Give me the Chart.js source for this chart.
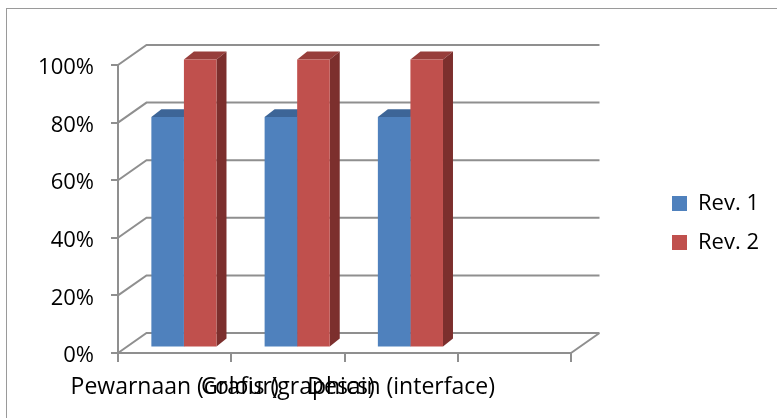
<!DOCTYPE html>
<html><head><meta charset="utf-8">
<script src="https://cdn.jsdelivr.net/npm/chart.js@4"></script>
<style>html,body{margin:0;padding:0;background:#fff}canvas{display:block}</style>
</head><body>
<canvas id="c" width="777" height="418"></canvas>
<script>
const categories = ['Pewarnaan (colour)', 'Grafis (graphics)', 'Desain (interface)', ''];
const seriesNames = ['Rev. 1', 'Rev. 2'];
const rev1 = [0.8, 0.8, 0.8, null];
const rev2 = [1.0, 1.0, 1.0, null];
const yTicks = [0, 0.2, 0.4, 0.6, 0.8, 1.0];

const FONT = 'Open Sans';
const FS = 22;
const WALL = {dx: 28.5, dy: -20};
const BAR_SHIFT = {dx: 9.3, dy: -5.6};
const BAR_DEPTH = {dx: 10, dy: -7.8};
const GRID = '#8f8f8f';
const frontColors = ['#4F81BD', '#C0504D'];
const faceColors = [{top: '#3D6597', side: '#2F5080'}, {top: '#973E3B', side: '#7C2F2D'}];
const LEGEND_BOX_X = 672, LEGEND_TOP = 192.5;

const plugin3d = {
  id: 'excel3d',
  beforeDraw(chart) {
    const ctx = chart.ctx;
    ctx.save();
    ctx.fillStyle = '#fff';
    ctx.fillRect(0, 0, chart.width, chart.height);
    ctx.strokeStyle = '#9a9a9a';
    ctx.lineWidth = 1;
    ctx.strokeRect(6.5, 8.5, chart.width + 20, chart.height + 20);
    ctx.restore();
  },
  afterLayout(chart) {
    const lg = chart.legend;
    if (!lg) return;
    const pad = lg.options.labels.padding;
    lg.left = LEGEND_BOX_X - pad;
    lg.right = lg.left + 140;
    lg.top = LEGEND_TOP - pad;
    lg.bottom = lg.top + 160;
    lg.width = 140; lg.height = 160;
  },
  beforeDatasetsDraw(chart) {
    const {ctx, chartArea: a, scales: {y}} = chart;
    ctx.save();
    ctx.strokeStyle = GRID;
    ctx.lineWidth = 2;
    ctx.beginPath();
    yTicks.forEach(v => {
      const py = y.getPixelForValue(v);
      ctx.moveTo(a.left, py);
      ctx.lineTo(a.left + WALL.dx, py + WALL.dy);
      ctx.lineTo(a.right + WALL.dx, py + WALL.dy);
    });
    const pb = y.getPixelForValue(0);
    ctx.moveTo(a.right, pb);
    ctx.lineTo(a.right + WALL.dx, pb + WALL.dy);
    ctx.stroke();
    ctx.restore();

    ctx.save();
    ctx.translate(BAR_SHIFT.dx, BAR_SHIFT.dy);
    const dx = BAR_DEPTH.dx, dy = BAR_DEPTH.dy;
    chart.data.datasets.forEach((ds, i) => {
      const meta = chart.getDatasetMeta(i);
      meta.data.forEach((el, j) => {
        if (ds.data[j] == null) return;
        const p = el.getProps(['x', 'y', 'base', 'width'], true);
        const L = p.x - p.width / 2, R = p.x + p.width / 2, T = p.y, B = p.base;
        ctx.fillStyle = faceColors[i].top;
        ctx.beginPath();
        ctx.moveTo(L, T); ctx.lineTo(L + dx, T + dy); ctx.lineTo(R + dx, T + dy); ctx.lineTo(R, T);
        ctx.closePath(); ctx.fill();
        ctx.fillStyle = faceColors[i].side;
        ctx.beginPath();
        ctx.moveTo(R, T); ctx.lineTo(R + dx, T + dy); ctx.lineTo(R + dx, B + dy); ctx.lineTo(R, B);
        ctx.closePath(); ctx.fill();
      });
    });
  },
  afterDatasetsDraw(chart) {
    chart.ctx.restore();
  }
};

Chart.defaults.font.family = FONT;
Chart.defaults.font.size = FS;
Chart.defaults.color = '#000';

new Chart(document.getElementById('c'), {
  type: 'bar',
  data: {
    labels: categories,
    datasets: [
      {label: seriesNames[0], data: rev1, backgroundColor: frontColors[0], borderWidth: 0, clip: false},
      {label: seriesNames[1], data: rev2, backgroundColor: frontColors[1], borderWidth: 0, clip: false}
    ]
  },
  options: {
    responsive: false,
    animation: false,
    events: [],
    layout: {padding: {top: 65, right: 206, left: 0, bottom: 0}},
    datasets: {bar: {categoryPercentage: 0.575, barPercentage: 1}},
    plugins: {
      tooltip: {enabled: false},
      legend: {
        position: 'chartArea',
        align: 'start',
        labels: {boxWidth: 15, boxHeight: 15, padding: 17, color: '#000', font: {size: FS}}
      }
    },
    scales: {
      x: {
        afterFit(s) { s.height = 65; },
        grid: {drawOnChartArea: false, drawTicks: true, tickLength: 9, color: GRID, lineWidth: 2},
        border: {display: true, color: GRID, width: 2},
        ticks: {autoSkip: false, maxRotation: 0, minRotation: 0, padding: 12, color: '#000', font: {size: 23}}
      },
      y: {
        min: 0, max: 1,
        afterFit(s) { s.width = 118; },
        afterBuildTicks(s) { s.ticks = yTicks.map(v => ({value: v})); },
        grid: {drawOnChartArea: false, drawTicks: true, tickLength: 7, color: GRID, lineWidth: 2},
        border: {display: true, color: GRID, width: 2},
        ticks: {padding: 17, labelOffset: 3, color: '#000', callback: v => Math.round(v * 100) + '%'}
      }
    }
  },
  plugins: [plugin3d]
});
</script>
</body></html>
